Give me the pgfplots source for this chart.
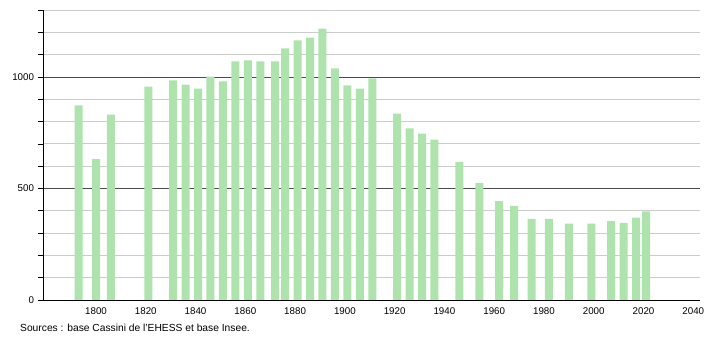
\documentclass[border=0pt]{standalone}
\usepackage{pgfplots}
\pgfplotsset{compat=1.18}
\usepackage{fontspec}
\setmainfont{Liberation Sans}
\definecolor{barg}{RGB}{174,227,174}
\begin{document}
\begin{tikzpicture}
\useasboundingbox (-43bp,-40bp) rectangle (667bp,300bp);
\begin{axis}[
  at={(0,0)}, anchor=origin,
  scale only axis, width=657bp, height=290bp,
  xmin=1778.7, xmax=2042.7, ymin=0, ymax=1300,
  axis x line*=bottom, axis y line*=left,
  axis line style={black, line width=0.8pt, -},
  xtick={1800,1820,...,2040},
  ytick={0,500,1000},
  minor ytick={100,200,300,400,600,700,800,900,1100,1200,1300},
  ymajorgrids, yminorgrids,
  major grid style={color=black!70, line width=0.7pt},
  minor grid style={color=black!20, line width=0.7pt},
  tick align=outside,
  xtick style={draw=none},
  ytick style={black, line width=0.6pt},
  major tick length=5bp, minor tick length=5bp,
  /pgf/number format/assume math mode=true,
  /pgf/number format/1000 sep={},
  tick label style={font=\fontsize{9.8}{11}\selectfont},
  yticklabel style={xshift=-0.5bp},
  xticklabel style={yshift=1bp},
  ybar, bar width=8bp,
]
\addplot[fill=barg, draw=none] coordinates {
(1793,872) (1800,632) (1806,831) (1821,956) (1831,984) (1836,965)
(1841,948) (1846,1001) (1851,980) (1856,1070) (1861,1074) (1866,1070)
(1872,1070) (1876,1128) (1881,1164) (1886,1176) (1891,1216) (1896,1038)
(1901,962) (1906,948) (1911,993) (1921,836) (1926,769) (1931,746)
(1936,719) (1946,619) (1954,524) (1962,443) (1968,422) (1975,364)
(1982,364) (1990,342) (1999,342) (2007,354) (2012,346) (2017,369)
(2021,397)
};
\end{axis}
\node[anchor=west, inner sep=0pt, font=\fontsize{10.3}{12}\selectfont] at (-23bp,-28bp) {Sources : base Cassini de l'EHESS et base Insee.};
\end{tikzpicture}
\end{document}
